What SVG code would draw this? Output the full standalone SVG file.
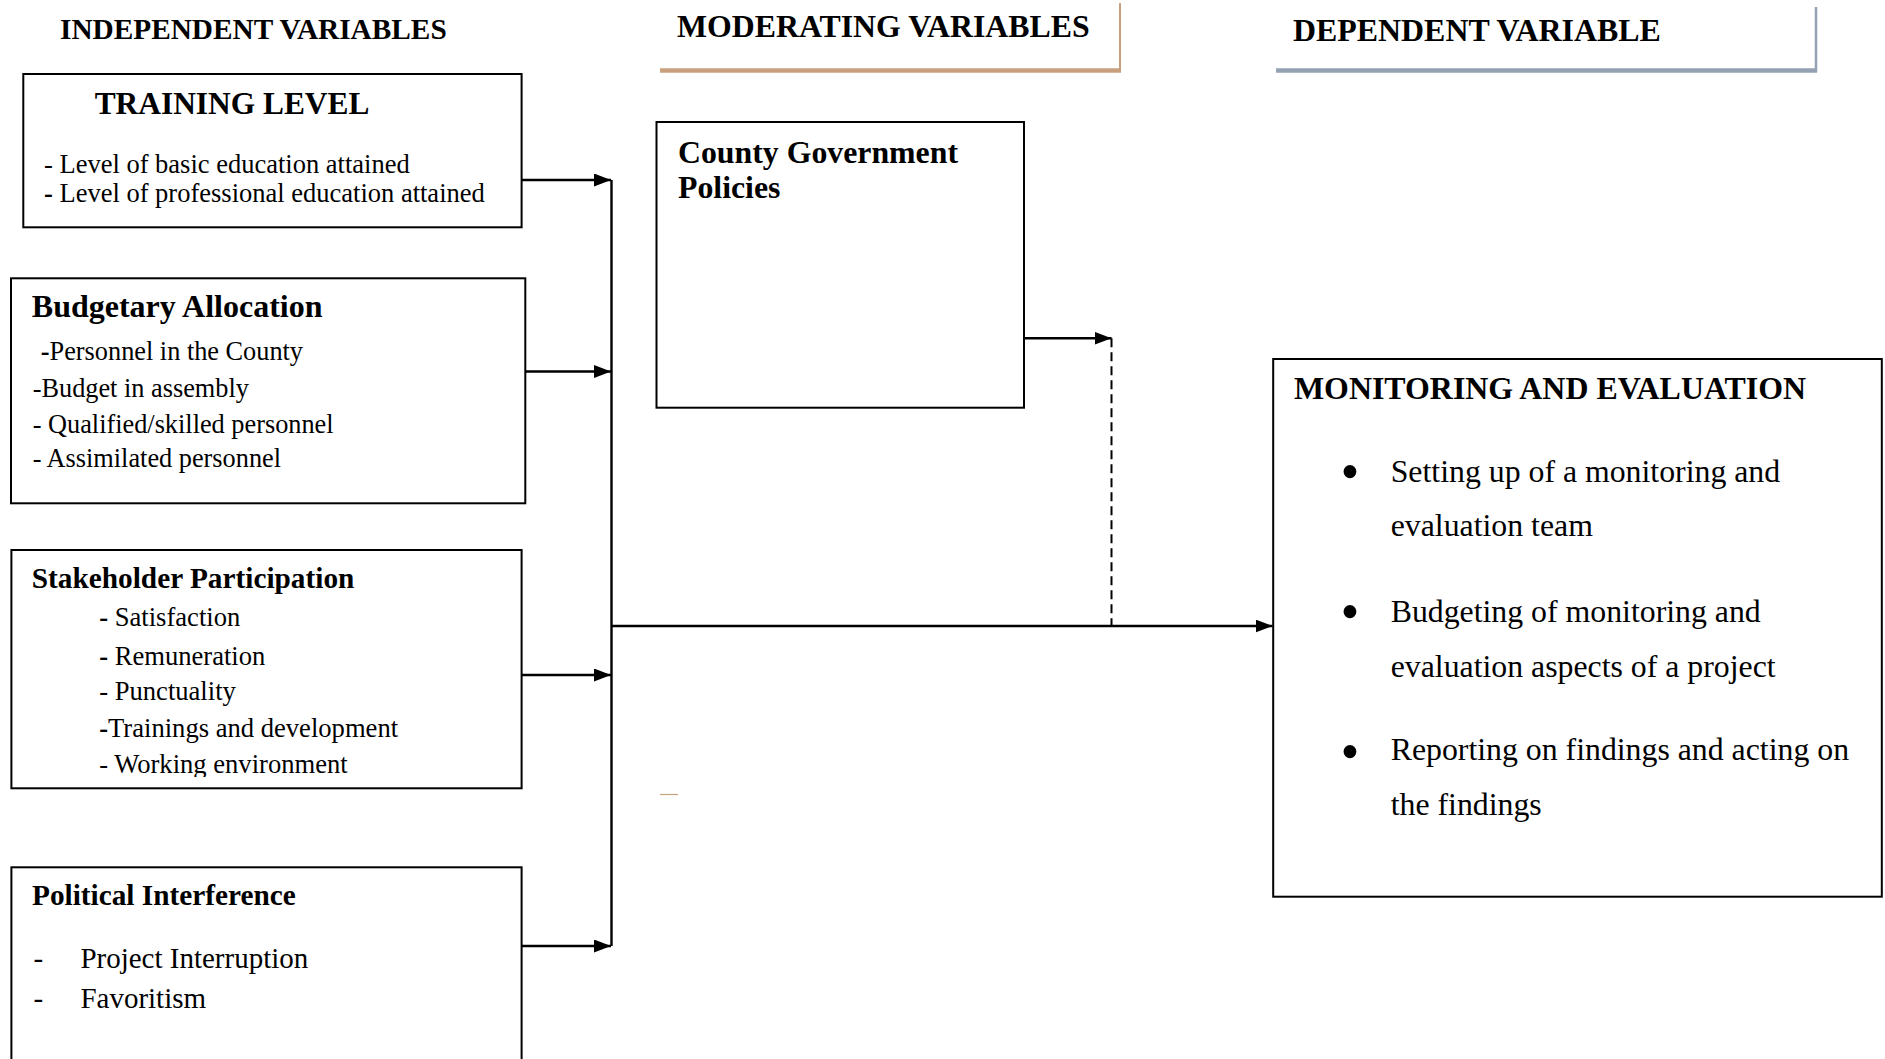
<svg xmlns="http://www.w3.org/2000/svg" width="1885" height="1059" viewBox="0 0 1885 1059">
<style>
text{font-family:"Liberation Serif","Times New Roman",serif;fill:#000}
.h{font-weight:bold}
.box{fill:#fff;stroke:#000;stroke-width:2}
.ln{stroke:#000;stroke-width:2.4;fill:none}
.b{font-weight:bold}
.bul{font-size:54px}
</style>
<defs>
<marker id="arr" markerUnits="userSpaceOnUse" markerWidth="18" markerHeight="14" refX="17" refY="6.5" orient="auto">
<path d="M0,0 L17,6.5 L0,13 z" fill="#000"/>
</marker>
<clipPath id="clipSP"><rect x="0" y="540" width="540" height="237"/></clipPath>
</defs>
<rect width="1885" height="1059" fill="#fff"/>

<g id="headers">
<text class="h" x="60" y="39" font-size="29.3">INDEPENDENT VARIABLES</text>
<g id="hdr-moderating">
<path d="M1120,3 V72" stroke="#C9A07E" stroke-width="2" fill="none"/>
<path d="M660,70.5 H1121" stroke="#C9A07E" stroke-width="4.5" fill="none"/>
<text class="h" x="677" y="37" font-size="31.8">MODERATING VARIABLES</text>
</g>
<g id="hdr-dependent">
<path d="M1816,7 V72" stroke="#93A1B3" stroke-width="2.5" fill="none"/>
<path d="M1276,70.5 H1817" stroke="#93A1B3" stroke-width="4.5" fill="none"/>
<text class="h" x="1293" y="41" font-size="31.9">DEPENDENT VARIABLE</text>
</g>
</g>

<g id="training-level">
<rect class="box" x="23.3" y="74" width="498.3" height="153.3"/>
<text class="h" x="94.7" y="114" font-size="31.4">TRAINING LEVEL</text>
<text x="44" y="173" font-size="26.5">- Level of basic education attained</text>
<text x="44" y="202" font-size="26.5"><tspan class="b">-</tspan> Level of professional education attained</text>
</g>

<g id="budgetary-allocation">
<rect class="box" x="11" y="278.3" width="514.3" height="225"/>
<text class="h" x="31.8" y="317.3" font-size="32">Budgetary Allocation</text>
<text x="40.8" y="360" font-size="26.3"><tspan class="b">-</tspan>Personnel in the County</text>
<text x="32.7" y="396.7" font-size="26.3">-Budget in assembly</text>
<text x="32.7" y="433.3" font-size="26.3">- Qualified/skilled personnel</text>
<text x="32.7" y="466.7" font-size="26.3">- Assimilated personnel</text>
</g>

<g id="stakeholder-participation">
<rect class="box" x="11.4" y="550" width="510.2" height="238.3"/>
<text class="h" x="31.8" y="588.3" font-size="29.3">Stakeholder Participation</text>
<text x="99.2" y="626" font-size="26.6"><tspan class="b">-</tspan> Satisfaction</text>
<text x="99.2" y="665" font-size="26.6"><tspan class="b">-</tspan> Remuneration</text>
<text x="99.2" y="700" font-size="26.6">- Punctuality</text>
<text x="99.2" y="736.7" font-size="26.6"><tspan class="b">-</tspan>Trainings and development</text>
<text x="99.2" y="773.3" font-size="26.6" clip-path="url(#clipSP)">- Working environment</text>
</g>

<g id="political-interference">
<rect class="box" x="11.4" y="867.3" width="510.2" height="260"/>
<text class="h" x="32" y="905" font-size="29.3">Political Interference</text>
<text x="33.5" y="968.3" font-size="29">-</text>
<text x="80.4" y="968.3" font-size="29">Project Interruption</text>
<text x="33.5" y="1008.3" font-size="29">-</text>
<text x="80.4" y="1008.3" font-size="29">Favoritism</text>
</g>

<g id="county-government-policies">
<rect class="box" x="656.5" y="122" width="367.5" height="285.7"/>
<text class="h" x="678" y="162.5" font-size="31.8">County Government</text>
<text class="h" x="678" y="198.3" font-size="31.8">Policies</text>
</g>

<g id="monitoring-evaluation">
<rect class="box" x="1273.2" y="359" width="608.6" height="537.7"/>
<text class="h" x="1294" y="399.3" font-size="31.9">MONITORING AND EVALUATION</text>
<text class="bul" x="1340.5" y="490">•</text>
<text x="1390.7" y="481.7" font-size="31.8">Setting up of a monitoring and</text>
<text x="1390.7" y="536" font-size="31.8">evaluation team</text>
<text class="bul" x="1340.5" y="630">•</text>
<text x="1390.7" y="621.7" font-size="31.8">Budgeting of monitoring and</text>
<text x="1390.7" y="676.7" font-size="31.8">evaluation aspects of a project</text>
<text class="bul" x="1340.5" y="769.5">•</text>
<text x="1390.7" y="760" font-size="31.8">Reporting on findings and acting on</text>
<text x="1390.7" y="815" font-size="31.8">the findings</text>
</g>

<g id="connectors">
<path class="ln" d="M611.5,180 V946"/>
<path class="ln" d="M521.6,180 H611" marker-end="url(#arr)"/>
<path class="ln" d="M525.3,371.5 H611" marker-end="url(#arr)"/>
<path class="ln" d="M521.6,675 H611" marker-end="url(#arr)"/>
<path class="ln" d="M521.6,946 H611" marker-end="url(#arr)"/>
<path class="ln" d="M1024,338.3 H1111.5" marker-end="url(#arr)"/>
<path d="M1111.5,338.3 V626" stroke="#000" stroke-width="2" stroke-dasharray="9,5" fill="none"/>
<path class="ln" d="M611.5,626 H1272.5" marker-end="url(#arr)"/>
</g>

<path d="M660,794.5 H678" stroke="#C9A07E" stroke-width="1.2" fill="none"/>
</svg>
